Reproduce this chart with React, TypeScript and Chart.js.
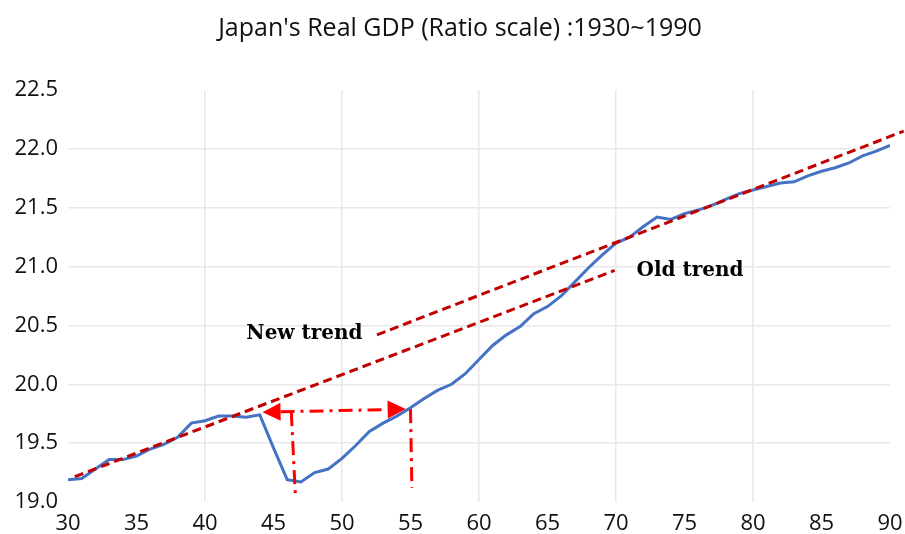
import React, { useEffect, useRef } from "react";
import { Chart, registerables } from "chart.js";

Chart.register(...registerables);

const chartTitle = "Japan's Real GDP (Ratio scale) :1930~1990";

const years = [
  30, 31, 32, 33, 34, 35, 36, 37, 38, 39,
  40, 41, 42, 43, 44, 45, 46, 47, 48, 49,
  50, 51, 52, 53, 54, 55, 56, 57, 58, 59,
  60, 61, 62, 63, 64, 65, 66, 67, 68, 69,
  70, 71, 72, 73, 74, 75, 76, 77, 78, 79,
  80, 81, 82, 83, 84, 85, 86, 87, 88, 89, 90,
];

const gdp = [
  19.19, 19.2, 19.28, 19.36, 19.36, 19.39, 19.45, 19.49, 19.55, 19.67,
  19.69, 19.73, 19.73, 19.72, 19.74, 19.46, 19.19, 19.17, 19.25, 19.28,
  19.37, 19.48, 19.6, 19.67, 19.73, 19.8, 19.88, 19.95, 20.0, 20.09,
  20.21, 20.33, 20.42, 20.49, 20.6, 20.66, 20.75, 20.87, 20.99, 21.1,
  21.2, 21.25, 21.34, 21.42, 21.4, 21.45, 21.48, 21.52, 21.57, 21.62,
  21.65, 21.68, 21.71, 21.72, 21.77, 21.81, 21.84, 21.88, 21.94, 21.98, 22.03,
];

const oldTrendYears = [30.5, 69.9];
const oldTrendValues = [19.215, 20.967];
const newTrendYears = [52.55, 91.0];
const newTrendValues = [20.42, 22.15];

// double-headed arrow: [left tip, right tip]
const arrowYears = [44.2, 54.65];
const arrowValues = [19.763, 19.789];
// drop lines below the arrow: [top, bottom]
const dropLeftYears = [46.3, 46.6];
const dropLeftValues = [19.763, 19.05];
const dropRightYears = [55.0, 55.1];
const dropRightValues = [19.789, 19.12];

const noteTexts = ["New trend", "Old trend"];
const noteYears = [47.26, 75.4];
const noteValues = [20.43, 20.964];

const xTicks = [30, 35, 40, 45, 50, 55, 60, 65, 70, 75, 80, 85, 90];
const yTicks = [19.0, 19.5, 20.0, 20.5, 21.0, 21.5, 22.0, 22.5];

const TICK_FONT = "'Open Sans', 'Noto Sans', sans-serif";

const annotationPlugin = {
  id: "annotations",
  afterDatasetsDraw(chart: any) {
    const { ctx } = chart;
    const x = chart.scales.x;
    const y = chart.scales.y;
    ctx.save();
    const red = "#FF0000";
    ctx.strokeStyle = red;
    ctx.fillStyle = red;
    ctx.lineWidth = 3;
    ctx.setLineDash([14, 6, 3, 6]);

    const line = (xs: number[], vs: number[]) => {
      ctx.beginPath();
      ctx.moveTo(x.getPixelForValue(xs[0]), y.getPixelForValue(vs[0]));
      ctx.lineTo(x.getPixelForValue(xs[1]), y.getPixelForValue(vs[1]));
      ctx.stroke();
    };
    line(dropLeftYears, dropLeftValues);
    line(dropRightYears, dropRightValues);

    const x1 = x.getPixelForValue(arrowYears[0]);
    const y1 = y.getPixelForValue(arrowValues[0]);
    const x2 = x.getPixelForValue(arrowYears[1]);
    const y2 = y.getPixelForValue(arrowValues[1]);
    const ang = Math.atan2(y2 - y1, x2 - x1);
    const headLen = 18;
    const headHalf = 9;
    ctx.beginPath();
    ctx.moveTo(x1 + Math.cos(ang) * headLen, y1 + Math.sin(ang) * headLen);
    ctx.lineTo(x2 - Math.cos(ang) * headLen, y2 - Math.sin(ang) * headLen);
    ctx.stroke();
    ctx.setLineDash([]);
    const head = (tx: number, ty: number, a: number) => {
      const bx = tx - Math.cos(a) * headLen;
      const by = ty - Math.sin(a) * headLen;
      ctx.beginPath();
      ctx.moveTo(tx, ty);
      ctx.lineTo(bx - Math.sin(a) * headHalf, by + Math.cos(a) * headHalf);
      ctx.lineTo(bx + Math.sin(a) * headHalf, by - Math.cos(a) * headHalf);
      ctx.closePath();
      ctx.fill();
    };
    head(x2, y2, ang);
    head(x1, y1, ang + Math.PI);

    ctx.fillStyle = "#000";
    ctx.font = "bold 20px 'DejaVu Serif', serif";
    ctx.textAlign = "center";
    ctx.textBaseline = "middle";
    noteTexts.forEach((t, i) => {
      ctx.fillText(t, x.getPixelForValue(noteYears[i]), y.getPixelForValue(noteValues[i]));
    });

    ctx.font = `25px ${TICK_FONT}`;
    ctx.fillStyle = "#111";
    ctx.fillText(chartTitle, 460, 29);
    ctx.restore();
  },
};

export default function App() {
  const ref = useRef<HTMLCanvasElement>(null);
  useEffect(() => {
    document.body.style.margin = "0";
    const chart = new Chart(ref.current as HTMLCanvasElement, {
      type: "line",
      data: {
        datasets: [
          {
            label: "Old trend",
            data: oldTrendYears.map((yr, i) => ({ x: yr, y: oldTrendValues[i] })),
            borderColor: "#C00000",
            borderWidth: 3,
            borderDash: [9, 5],
            pointRadius: 0,
            order: 1,
          },
          {
            label: "New trend",
            data: newTrendYears.map((yr, i) => ({ x: yr, y: newTrendValues[i] })),
            borderColor: "#C00000",
            borderWidth: 3,
            borderDash: [9, 5],
            pointRadius: 0,
            clip: false,
            order: 1,
          },
          {
            label: "Real GDP",
            data: years.map((yr, i) => ({ x: yr, y: gdp[i] })),
            borderColor: "#4472C4",
            borderWidth: 3,
            pointRadius: 0,
            tension: 0,
            order: 2,
          },
        ],
      },
      options: {
        responsive: false,
        animation: false,
        layout: { padding: { top: 90, right: 15, left: 0, bottom: 0 } },
        plugins: {
          legend: { display: false },
          tooltip: { enabled: false },
          title: { display: false },
        },
        scales: {
          x: {
            type: "linear",
            min: 30,
            max: 90,
            afterBuildTicks: (s: any) => {
              s.ticks = xTicks.map((v) => ({ value: v }));
            },
            afterFit: (s: any) => {
              s.height = 32;
              s.paddingRight = 0;
              s.paddingLeft = 0;
            },
            border: { display: false },
            grid: {
              drawTicks: false,
              lineWidth: 1.5,
              color: (c: any) => {
                const v = c.tick ? c.tick.value : 0;
                return v % 10 === 0 && v > 30 && v < 90 ? "#e8e8e8" : "rgba(0,0,0,0)";
              },
            },
            ticks: {
              padding: 9,
              autoSkip: false,
              maxRotation: 0,
              color: "#111",
              font: { family: TICK_FONT, size: 22 },
            },
          },
          y: {
            type: "linear",
            min: 19,
            max: 22.5,
            afterBuildTicks: (s: any) => {
              s.ticks = yTicks.map((v) => ({ value: v }));
            },
            afterFit: (s: any) => {
              s.width = 68;
            },
            border: { display: false },
            grid: {
              drawTicks: false,
              lineWidth: 1.5,
              color: (c: any) => {
                const v = c.tick ? c.tick.value : 0;
                return v > 19.01 && v < 22.49 ? "#e8e8e8" : "rgba(0,0,0,0)";
              },
            },
            ticks: {
              padding: 10,
              color: "#111",
              font: { family: TICK_FONT, size: 22 },
              callback: (v: any) => Number(v).toFixed(1),
            },
          },
        },
      },
      plugins: [annotationPlugin],
    });
    return () => chart.destroy();
  }, []);
  return (
    <div style={{ position: "relative", width: 905, height: 534 }}>
      <canvas ref={ref} width={905} height={534} style={{ display: "block" }} />
    </div>
  );
}
